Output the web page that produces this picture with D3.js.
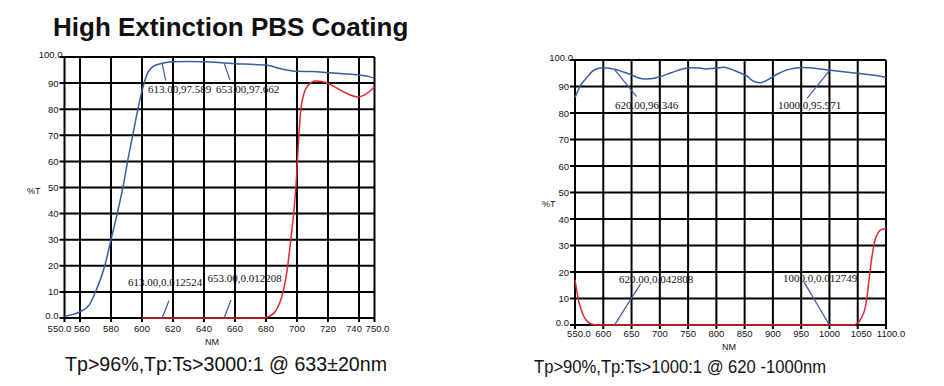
<!DOCTYPE html>
<html>
<head>
<meta charset="utf-8">
<script src="https://cdn.jsdelivr.net/npm/d3@7"></script>
<style>
  body { margin: 0; background: #fff; }
  svg { display: block; }
  text { fill: #111; }
</style>
</head>
<body>
<div id="chart"></div>
<script>
// ---- data: left chart (550-750 nm) ----
const leftTp = [[550,0.7],[555,1.3],[560,2.4],[566,5],[570,10],[576,20],[580,30],[584,40],[588,51],[591,61],
  [594,70],[597,79],[600,87],[603,93],[607,96.3],[613,97.6],[620,98.2],[630,98.3],[640,98.2],[653,97.7],
  [660,97.4],[670,97.2],[680,96.9],[690,95.4],[700,94.5],[710,94.4],[720,94],[730,93.6],[740,93.1],[745,92.7],[750,91.8]];
const leftTs = [[600,0],[650,0],[678,0],[682,0.6],[686,2.5],[689,6],[691,10],[694,20],[696,30],[698,41],[699.5,52],
  [701,68],[702.5,80],[704.5,86],[707,89],[712,90.8],[718,90.3],[726,88],[733,85.8],[739,84.7],[744,85.6],[750,88.6]];
const leftXTicks = [550,560,580,600,620,640,660,680,700,720,740,750];
const leftXLabels = ["550.0","560","580","600","620","640","660","680","700","720","740","750.0"];
const leftNotes = [
  { nm: 613, v: 97.589, label: "613.00,97.589" },
  { nm: 653, v: 97.662, label: "653.00,97.662" },
  { nm: 613, v: 0.012524, label: "613.00,0.012524" },
  { nm: 653, v: 0.012208, label: "653.00,0.012208" }
];

// ---- data: right chart (550-1100 nm) ----
const rightTp = [[550,85.8],[560,90.5],[570,93.1],[580,95.6],[590,96.8],[600,97.1],[610,96.9],[620,96.5],[635,95.5],
  [647,94.6],[660,93.4],[676,92.8],[690,93.1],[700,93.7],[720,95.2],[740,96.6],[753,97.1],[770,97],[783,96.6],
  [795,96.9],[806,97.1],[812,97.3],[825,96.6],[840,95.3],[848,94.6],[855,93.8],[860,92.8],[868,91.8],[877,91.4],
  [886,92],[895,93.1],[910,94.9],[924,96.2],[938,96.9],[951,97.2],[965,97.1],[983,96.6],[1000,96.2],[1025,95.6],
  [1048,95],[1075,94.3],[1100,93.5]];
const rightTs = [[550,17],[553,13],[556,9.5],[560,6.4],[565,3.5],[570,1.8],[576,0.7],[583,0.2],[592,0],[620,0],
  [800,0],[1042,0],[1047,0.3],[1052,1.2],[1057,3],[1062,5.5],[1066,10],[1070,17],[1074,24],[1078,29.5],[1082,33],
  [1086,34.8],[1090,35.8],[1095,36.2],[1100,36.4]];
const rightXTicks = [550,600,650,700,750,800,850,900,950,1000,1050,1100];
const rightXLabels = ["550.0","600","650","700","750","800","850","900","950","1000","1050","1100.0"];
const rightNotes = [
  { nm: 620, v: 96.346, label: "620.00,96.346" },
  { nm: 1000, v: 95.971, label: "1000.0,95.971" },
  { nm: 620, v: 0.042808, label: "620.00,0.042808" },
  { nm: 1000, v: 0.012749, label: "1000.0,0.012749" }
];

const yTicks = [0,10,20,30,40,50,60,70,80,90,100];
const yLabels = ["0.0","10","20","30","40","50","60","70","80","90","100.0"];

const title = "High Extinction PBS Coating";
const leftCaption = "Tp>96%,Tp:Ts>3000:1 @ 633\u00b120nm";
const rightCaption = "Tp>90%,Tp:Ts>1000:1 @ 620 -1000nm";

const blue = "#3b5ba5";
const red = "#e0282c";
const sans = '"Liberation Sans", Arial, sans-serif';
const serif = '"Liberation Serif", "Times New Roman", serif';

const svg = d3.select('#chart').append('svg')
  .attr('width', 944)
  .attr('height', 386)
  .style('font-family', sans);

svg.append('text')
  .attr('x', 53).attr('y', 36)
  .attr('font-size', 26).attr('font-weight', 'bold')
  .text(title);

function drawChart(opt) {
  const x = d3.scaleLinear().domain(opt.xDomain).range([opt.left, opt.right]);
  const y = d3.scaleLinear().domain([0, 100]).range([opt.bottom, opt.top]);
  const g = svg.append('g');

  // grid: vertical lines on every x tick, horizontal every 10
  g.selectAll('line.vg')
    .data(opt.xTicks)
    .enter().append('line')
    .attr('x1', d => x(d)).attr('x2', d => x(d))
    .attr('y1', y(100)).attr('y2', y(0) + 4)
    .attr('stroke', '#000').attr('stroke-width', 2);

  g.selectAll('line.hg')
    .data(yTicks)
    .enter().append('line')
    .attr('x1', x(opt.xDomain[0]) - 5).attr('x2', x(opt.xDomain[1]))
    .attr('y1', d => y(d)).attr('y2', d => y(d))
    .attr('stroke', '#000').attr('stroke-width', 2);

  // tick labels
  g.selectAll('text.yl')
    .data(yTicks)
    .enter().append('text')
    .attr('x', (d, i) => x(opt.xDomain[0]) - (i === yTicks.length - 1 ? 2 : 6))
    .attr('y', d => y(d) + (d === 0 ? 0.5 : d === 100 ? 1 : 3.5))
    .attr('text-anchor', 'end')
    .attr('font-size', 9.5)
    .text((d, i) => yLabels[i]);

  g.selectAll('text.xl')
    .data(opt.xTicks)
    .enter().append('text')
    .attr('x', (d, i) => x(d) + (opt.xLabelShift[i] || 0))
    .attr('y', y(0) + opt.xLabelGap)
    .attr('text-anchor', 'middle')
    .attr('font-size', 9.5)
    .text((d, i) => opt.xLabels[i]);

  g.append('text')
    .attr('x', opt.nmX).attr('y', y(0) + opt.xLabelGap + 13)
    .attr('text-anchor', 'middle').attr('font-size', 9)
    .text('NM');

  g.append('text')
    .attr('x', opt.pctX).attr('y', opt.pctY)
    .attr('font-size', 9)
    .text('%T');

  // curves
  const line = d3.line()
    .x(d => x(d[0]))
    .y(d => y(d[1]))
    .curve(d3.curveMonotoneX);

  g.append('path').datum(opt.ts)
    .attr('d', line).attr('fill', 'none')
    .attr('stroke', red).attr('stroke-width', 1.5);

  g.append('path').datum(opt.tp)
    .attr('d', line).attr('fill', 'none')
    .attr('stroke', blue).attr('stroke-width', 1.5);

  // marker notes with leader lines
  opt.notes.forEach((n, i) => {
    const lay = opt.noteLayout[i];
    g.append('line')
      .attr('x1', x(n.nm)).attr('y1', y(n.v))
      .attr('x2', x(n.nm) + lay.dx).attr('y2', y(n.v) + lay.dy)
      .attr('stroke', blue).attr('stroke-width', 1.2);
    g.append('text')
      .attr('x', lay.tx).attr('y', lay.ty)
      .style('font-family', serif)
      .attr('font-size', 11)
      .text(n.label);
  });

  svg.append('text')
    .attr('x', opt.capX).attr('y', opt.capY)
    .attr('font-size', opt.capSize)
    .attr('textLength', opt.capLen)
    .attr('lengthAdjust', 'spacingAndGlyphs')
    .text(opt.caption);
}

drawChart({
  xDomain: [550, 750], left: 64.5, right: 374.5, top: 57, bottom: 318,
  xTicks: leftXTicks, xLabels: leftXLabels, xLabelGap: 13.5,
  xLabelShift: [-5, 2, 0, 0, 0, 0, 0, 0, 0, 0, -5, 3],
  nmX: 212, pctX: 27, pctY: 194,
  tp: leftTp, ts: leftTs, notes: leftNotes,
  noteLayout: [
    { dx: 3.5, dy: 17.4, tx: 148, ty: 93 },
    { dx: 5.8, dy: 17, tx: 216, ty: 93 },
    { dx: 6.8, dy: -17.3, tx: 128, ty: 286 },
    { dx: 6.8, dy: -18, tx: 207.5, ty: 281.5 }
  ],
  caption: leftCaption, capX: 65, capY: 371, capSize: 19.5, capLen: 322
});

drawChart({
  xDomain: [550, 1100], left: 575, right: 886, top: 60, bottom: 325,
  xTicks: rightXTicks, xLabels: rightXLabels, xLabelGap: 11.5,
  xLabelShift: [4, 0, 0, 0, 0, 0, 0, 0, 0, 0, 3.5, 5],
  nmX: 729, pctX: 542, pctY: 207,
  tp: rightTp, ts: rightTs, notes: rightNotes,
  noteLayout: [
    { dx: 22, dy: 27, tx: 615, ty: 109 },
    { dx: -22.4, dy: 27.6, tx: 778, ty: 109 },
    { dx: 26, dy: -41, tx: 619, ty: 283 },
    { dx: -25.7, dy: -43.3, tx: 783, ty: 281.5 }
  ],
  caption: rightCaption, capX: 534, capY: 373, capSize: 19, capLen: 292
});
</script>
</body>
</html>
